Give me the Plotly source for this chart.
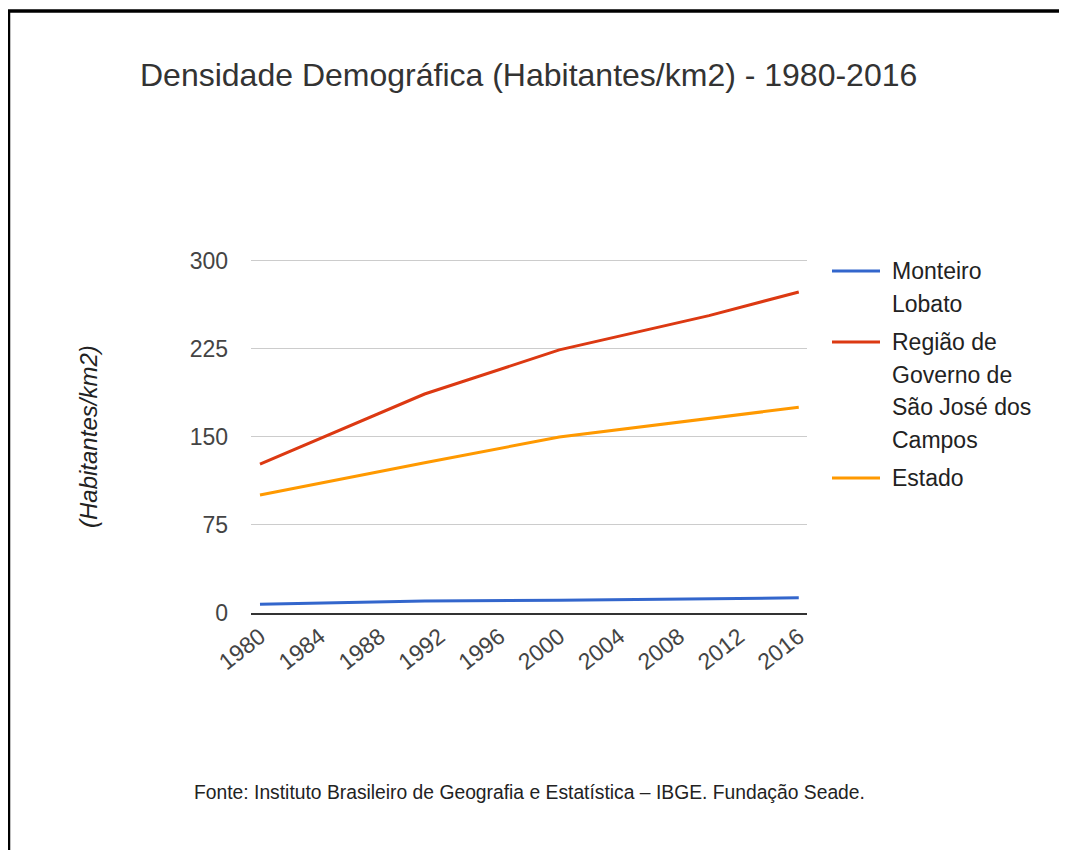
import plotly.graph_objects as go

# a pagina tem margem de 8px no body, entao tudo e deslocado
OFF = 8
W, H = 1067, 850

# dados (hab/km2)
years = [1980, 1991, 2000, 2010, 2016]
monteiro_lobato = [7.1, 9.7, 10.5, 11.7, 12.5]
regiao_sjc = [126.5, 186.2, 223.8, 253.0, 273.2]
estado = [100.1, 127.7, 149.5, 165.5, 174.9]

series = [monteiro_lobato, regiao_sjc, estado]
series_names = ["Monteiro Lobato", "Região de Governo de São José dos Campos", "Estado"]
legend_lines = [["Monteiro", "Lobato"],
                ["Região de", "Governo de", "São José dos", "Campos"],
                ["Estado"]]
colors = ["#3366cc", "#dc3912", "#ff9900"]

y_ticks = [0, 75, 150, 225, 300]
x_ticks = list(range(1980, 2017, 4))

FONT = "Liberation Sans, Arial, sans-serif"


def px(x):
    return (x - OFF) / W


def py(y):
    return 1 - (y - OFF) / H


fig = go.Figure()
for vals, name, col in zip(series, series_names, colors):
    fig.add_trace(go.Scatter(x=years, y=vals, mode="lines", name=name,
                             line=dict(color=col, width=3), showlegend=False))

shapes = [
    # moldura preta (topo e esquerda)
    dict(type="line", xref="paper", yref="paper", x0=px(6), x1=px(1075), y0=py(11), y1=py(11),
         line=dict(color="black", width=3.5)),
    dict(type="line", xref="paper", yref="paper", x0=px(8.5), x1=px(8.5), y0=py(10), y1=py(858),
         line=dict(color="black", width=3.5)),
]
annotations = []

# legenda manual (texto quebrado em linhas como no original)
ly = 271
for lines, col in zip(legend_lines, colors):
    shapes.append(dict(type="line", xref="paper", yref="paper", x0=px(832), x1=px(880),
                       y0=py(ly), y1=py(ly), line=dict(color=col, width=3)))
    for t in lines:
        annotations.append(dict(text=t, xref="paper", yref="paper", x=px(890), y=py(ly),
                                xanchor="left", yanchor="middle", showarrow=False,
                                font=dict(family=FONT, size=23, color="#222222")))
        ly += 32.5
    ly += 6

annotations.append(dict(text="(Habitantes/km2)", xref="paper", yref="paper", x=px(88), y=py(437),
                        textangle=-90, showarrow=False, xanchor="center", yanchor="middle",
                        font=dict(family=FONT, size=24, color="#222222", style="italic")))

annotations.append(dict(text="Fonte: Instituto Brasileiro de Geografia e Estatística – IBGE. Fundação Seade.",
                        xref="paper", yref="paper", x=px(192), y=py(792), xanchor="left", yanchor="middle",
                        showarrow=False,
                        font=dict(family=FONT, size=19.3, color="#222222")))

# 300 fica na linha de grade do topo
y_top = 301
top_px = 612.5 - (612.5 - 260.5) * y_top / 300

fig.update_layout(
    width=W, height=H,
    margin=dict(l=0, r=0, t=0, b=0),
    paper_bgcolor="white", plot_bgcolor="white",
    title=dict(text="Densidade Demográfica (Habitantes/km2) - 1980-2016",
               x=px(140), xanchor="left", xref="paper",
               y=py(75), yanchor="middle", yref="paper",
               font=dict(family=FONT, size=32, color="#333333")),
    xaxis=dict(domain=[px(251), px(807)], range=[1979.4, 2016.55],
               tickvals=x_ticks, tickangle=-38, showgrid=False, zeroline=False,
               showline=True, linecolor="#333333", linewidth=1.5, ticks="",
               tickfont=dict(family=FONT, size=23, color="#444444"), automargin=False),
    yaxis=dict(domain=[py(612.5), py(top_px)], range=[0, y_top], tickvals=y_ticks,
               showgrid=True, gridcolor="#cccccc", gridwidth=1, zeroline=False,
               ticks="", ticklabelstandoff=22,
               tickfont=dict(family=FONT, size=23, color="#444444"), automargin=False),
    shapes=shapes,
    annotations=annotations,
    showlegend=False,
)

fig.write_html("out.html")
